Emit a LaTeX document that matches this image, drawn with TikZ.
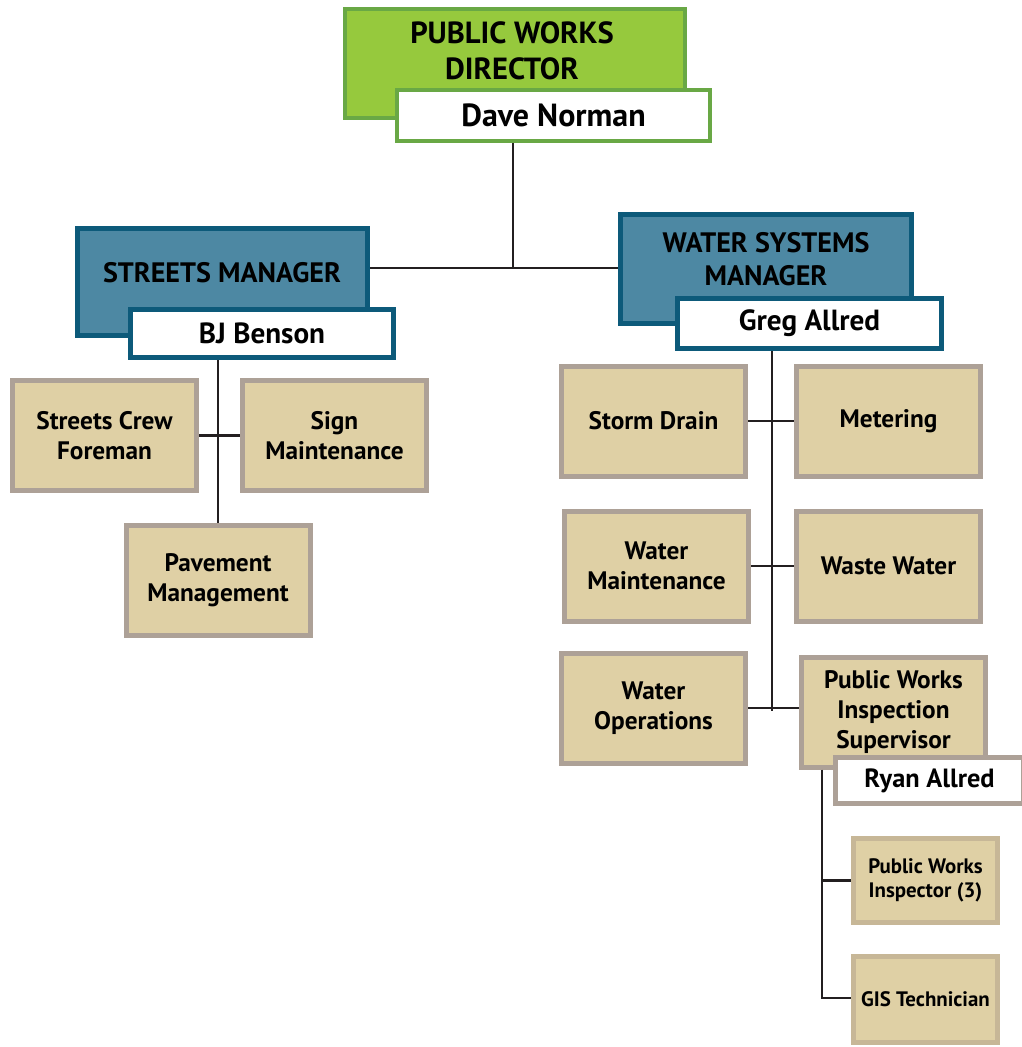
\documentclass[tikz,border=0pt]{standalone}
\usepackage{fontspec}
\setmainfont{PT Sans}
\usetikzlibrary{calc}
\newlength{\px}
\setlength{\px}{0.02cm}
\definecolor{dirgreen}{HTML}{96C93D}
\definecolor{dirline}{HTML}{69A845}
\definecolor{mgrblue}{HTML}{4D88A3}
\definecolor{mgrline}{HTML}{0D5A7A}
\definecolor{unittan}{HTML}{DFD0A5}
\definecolor{unitline}{HTML}{ADA197}
\definecolor{subline}{HTML}{C7B797}
\definecolor{wire}{HTML}{231F20}
\tikzset{
  box/.style={draw,inner sep=0pt,align=center,font=\bfseries},
  dirbox/.style={box,fill=dirgreen,draw=dirline,line width=4\px},
  mgrbox/.style={box,fill=mgrblue,draw=mgrline,line width=5\px},
  unitbox/.style={box,fill=unittan,draw=unitline,line width=5\px,
    minimum width=184\px,minimum height=110\px,
    font=\fontsize{14.4}{17}\selectfont\bfseries},
  subbox/.style={box,fill=unittan,draw=subline,line width=5\px,
    minimum width=144\px,font=\fontsize{11.9}{13.6}\selectfont\bfseries},
  namebox/.style={box,fill=white,line width=4\px},
  bigtext/.style={align=center,font=\fontsize{17.4}{20.4}\selectfont\bfseries},
  mgrtext/.style={align=center,font=\fontsize{16}{18.7}\selectfont\bfseries},
  wire/.style={draw=wire,line width=2.4\px}
}
\begin{document}
\begin{tikzpicture}[x=1\px,y=-1\px]
  \useasboundingbox (0,0) rectangle (1021,1047);
  % director
  \node[dirbox,minimum width=340\px,minimum height=109\px] (director) at (515,63.5) {};
  \node[bigtext] (dirtitle) at (512,51) {PUBLIC WORKS\\DIRECTOR};
  \node[namebox,draw=dirline,minimum width=313\px,minimum height=51\px,
    font=\fontsize{18.2}{20}\selectfont\bfseries] (dave) at (553.5,115.5) {Dave Norman};
  % managers
  \node[mgrbox,minimum width=290\px,minimum height=107\px] (streets) at (222.5,282) {};
  \node[mgrtext] (streetstitle) at (222,273) {STREETS MANAGER};
  \node[namebox,draw=mgrline,line width=5\px,minimum width=263\px,minimum height=48\px,
    font=\fontsize{16.6}{18}\selectfont\bfseries] (benson) at (262,333.5) {BJ Benson};
  \node[mgrbox,minimum width=291\px,minimum height=109\px] (water) at (766,269) {};
  \node[mgrtext] (watertitle) at (766,259.5) {WATER SYSTEMS\\MANAGER};
  \node[namebox,draw=mgrline,line width=5\px,minimum width=264\px,minimum height=50\px,
    font=\fontsize{16.6}{18}\selectfont\bfseries] (greg) at (809.5,323.5) {Greg Allred};
  % streets units
  \node[unitbox] (crew) at (104.5,435.5) {Streets Crew\\Foreman};
  \node[unitbox] (sign) at (334.5,435.5) {Sign\\Maintenance};
  \node[unitbox] (pave) at (218,580.5) {Pavement\\Management};
  % water units
  \node[unitbox] (storm) at (653.5,421) {Storm Drain};
  \node[unitbox] (meter) at (888.5,421) {Metering};
  \node[unitbox] (wmaint) at (656.5,566) {Water\\Maintenance};
  \node[unitbox] (waste) at (888.5,566) {Waste Water};
  \node[unitbox] (wops) at (653.5,708) {Water\\Operations};
  \node[unitbox] (super) at (893.5,712) {Public Works\\Inspection\\Supervisor};
  \node[namebox,draw=unitline,line width=5\px,minimum width=188\px,minimum height=46\px,
    font=\fontsize{15}{17}\selectfont\bfseries] (ryan) at (929.5,780.5) {Ryan Allred};
  \node[subbox,minimum height=84\px] (insp) at (925.5,880.5) {Public Works\\Inspector (3)};
  \node[subbox,minimum height=86\px] (gis) at (925.5,999.5) {GIS Technician};
  % connectors
  \coordinate (dirjoin) at (513,268);
  \coordinate (waterjoin) at (772,711);
  \coordinate (superjoin) at (822,998);
  \draw[wire] (dirjoin |- dave.south) -- (dirjoin);
  \draw[wire] (streets.east |- dirjoin) -- (water.west |- dirjoin);
  \draw[wire] (pave.north |- benson.south) -- (pave.north);
  \draw[wire] (crew.east) -- (sign.west);
  \draw[wire] (waterjoin |- greg.south) -- (waterjoin);
  \draw[wire] (storm.east) -- (meter.west);
  \draw[wire] (wmaint.east) -- (waste.west);
  \draw[wire] (wops.east) -- (wops.east -| super.west);
  \draw[wire] (superjoin |- super.south) -- (superjoin) -- (superjoin -| gis.west);
  \draw[wire] (superjoin |- insp.west) -- (insp.west);
\end{tikzpicture}
\end{document}
